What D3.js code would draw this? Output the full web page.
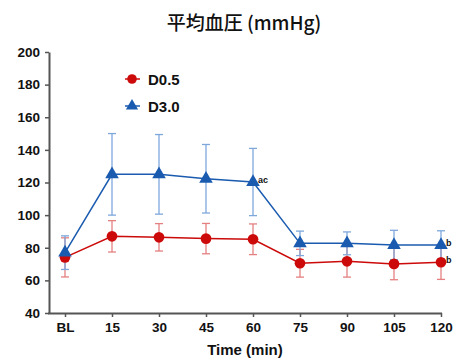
<!DOCTYPE html>
<html lang="ja">
<head>
<meta charset="UTF-8">
<title>平均血圧</title>
<script src="https://d3js.org/d3.v7.min.js"></script>
<style>
  body { margin: 0; background: #fff; }
  text { font-family: Arial, "Liberation Sans", sans-serif; }
  .tick text { font-size: 13.5px; font-weight: bold; fill: #111; }
  .title { font-family: "Noto Sans CJK JP", sans-serif; font-size: 19px; font-weight: 500; fill: #111; }
  .axis-title { font-size: 15px; font-weight: bold; fill: #111; }
  .legend text { font-size: 15px; font-weight: bold; fill: #111; }
  .note { font-size: 9px; font-weight: bold; fill: #111; }
</style>
</head>
<body>
<div id="container"></div>
<script>
// categories (minutes)
var times = ["BL", "15", "30", "45", "60", "75", "90", "105", "120"];

// D0.5 mean and SD
var d05Mean = [74.1, 87.0, 86.4, 85.6, 85.2, 70.5, 71.7, 70.1, 71.1];
var d05Err  = [12.0, 9.6, 8.4, 9.3, 9.4, 8.5, 9.7, 9.7, 10.5];

// D3.0 mean and SD
var d30Mean = [77.0, 125.0, 125.0, 122.3, 120.3, 82.7, 82.7, 81.7, 81.7];
var d30Err  = [10.3, 25.0, 24.4, 21.0, 20.6, 7.5, 7.0, 9.0, 8.7];

var yTicks = [40, 60, 80, 100, 120, 140, 160, 180, 200];

// significance marks: [series, index, label]
var notes = [["D3.0", 4, "ac"], ["D3.0", 8, "b"], ["D0.5", 8, "b"]];

var W = 464, H = 359;

var svg = d3.select("#container").append("svg")
    .attr("width", W)
    .attr("height", H);

var x = d3.scalePoint().domain(times).range([65, 441]);
var y = d3.scaleLinear().domain([40, 200]).range([313, 52]);

// title
svg.append("text")
    .attr("class", "title")
    .attr("x", 244).attr("y", 30)
    .attr("text-anchor", "middle")
    .text("平均血圧 (mmHg)");

// axes
var yAxis = d3.axisLeft(y).tickValues(yTicks).tickSize(4).tickPadding(5).tickSizeOuter(0);
var gy = svg.append("g").attr("transform", "translate(49,0)").call(yAxis);
gy.select(".domain").attr("stroke", "#555").attr("stroke-width", 2);
gy.selectAll(".tick line").attr("stroke", "#555").attr("stroke-width", 1.5);

var xAxis = d3.axisBottom(x).tickSize(4).tickPadding(5).tickSizeOuter(0);
var gx = svg.append("g").attr("transform", "translate(0,313)").call(xAxis);
gx.select(".domain").attr("d", "M48,0.5H442").attr("stroke", "#555").attr("stroke-width", 2);
gx.selectAll(".tick line").attr("stroke", "#555").attr("stroke-width", 1.5);

svg.append("text")
    .attr("class", "axis-title")
    .attr("x", 245).attr("y", 355)
    .attr("text-anchor", "middle")
    .text("Time (min)");

var series = [
    { name: "D0.5", mean: d05Mean, err: d05Err, color: "#cc0a0a", errColor: "#e58080", shape: d3.symbolCircle, size: 90 },
    { name: "D3.0", mean: d30Mean, err: d30Err, color: "#1a5bb0", errColor: "#7ea8dc", shape: d3.symbolTriangle, size: 80 }
];

var line = d3.line()
    .x(function (d, i) { return x(times[i]); })
    .y(function (d) { return y(d); });

// error bars first
series.forEach(function (s) {
    var g = svg.append("g").attr("class", "err");
    s.mean.forEach(function (m, i) {
        var cx = x(times[i]), top = y(m + s.err[i]), bot = y(m - s.err[i]);
        g.append("line").attr("x1", cx).attr("x2", cx).attr("y1", top).attr("y2", bot)
            .attr("stroke", s.errColor).attr("stroke-width", 1.3);
        [top, bot].forEach(function (yy) {
            g.append("line").attr("x1", cx - 4).attr("x2", cx + 4).attr("y1", yy).attr("y2", yy)
                .attr("stroke", s.errColor).attr("stroke-width", 1.3);
        });
    });
});

// lines and markers
series.forEach(function (s) {
    svg.append("path")
        .attr("d", line(s.mean))
        .attr("fill", "none")
        .attr("stroke", s.color)
        .attr("stroke-width", 1.5);

    svg.append("g").selectAll("path")
        .data(s.mean)
        .enter().append("path")
        .attr("d", d3.symbol().type(s.shape).size(s.size))
        .attr("transform", function (d, i) { return "translate(" + x(times[i]) + "," + y(d) + ")"; })
        .attr("fill", s.color);
});

// significance labels
notes.forEach(function (n) {
    var s = series.filter(function (d) { return d.name === n[0]; })[0];
    svg.append("text")
        .attr("class", "note")
        .attr("x", x(times[n[1]]) + 5)
        .attr("y", y(s.mean[n[1]]) + 1)
        .text(n[2]);
});

// legend
var legend = svg.append("g").attr("class", "legend");
series.forEach(function (s, i) {
    var ly = 79 + i * 27;
    legend.append("line").attr("x1", 125).attr("x2", 140).attr("y1", ly).attr("y2", ly)
        .attr("stroke", s.color).attr("stroke-width", 1.5);
    legend.append("path")
        .attr("d", d3.symbol().type(s.shape).size(s.size * 0.8))
        .attr("transform", "translate(132," + ly + ")")
        .attr("fill", s.color);
    legend.append("text").attr("x", 148).attr("y", ly + 5.5).text(s.name);
});
</script>
</body>
</html>
